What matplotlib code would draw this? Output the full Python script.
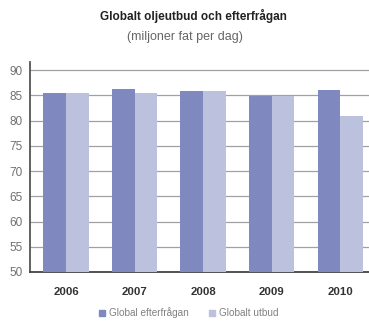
import numpy as np
import matplotlib
matplotlib.use('Agg')
import matplotlib.pyplot as plt
from matplotlib.patches import Patch

plt.rcParams['font.family'] = ['Liberation Sans', 'DejaVu Sans']

years = ['2006', '2007', '2008', '2009', '2010']
demand = [85.5, 86.2, 85.9, 84.85, 86.0]
supply = [85.4, 85.5, 85.9, 84.85, 80.85]
yticks = [50, 55, 60, 65, 70, 75, 80, 85, 90]

dark = '#7f88bf'
light = '#bcc1de'

fig = plt.figure(figsize=(3.69, 3.23), dpi=100)
ax = fig.add_axes([30/369, 1-272/323, 1-30/369, (272-62)/323])

x = np.arange(len(years))
w = 0.33
ax.bar(x - w/2, demand, w, color=dark, zorder=3, label='Global efterfrågan')
ax.bar(x + w/2, supply, w, color=light, zorder=3, label='Globalt utbud')

ax.set_ylim(50, 91.6)
ax.set_xlim(-0.525, 4.42)
ax.set_yticks(yticks)
ax.set_yticklabels([str(t) for t in yticks])
for t in yticks[1:]:
    ax.axhline(t, color='#a0a0a0', lw=0.9, zorder=1)

ax.set_xticks(x)
ax.set_xticklabels(years, fontweight='bold', color='#333333', fontsize=8.2)
ax.tick_params(axis='x', length=0, pad=11)
ax.tick_params(axis='y', length=0, pad=5, labelcolor='#707070', labelsize=8.5)

for s in ['top', 'right']:
    ax.spines[s].set_visible(False)
ax.spines['left'].set_color('#555555')
ax.spines['left'].set_linewidth(1.3)
ax.spines['bottom'].set_color('#444444')
ax.spines['bottom'].set_linewidth(1.3)

fig.text(193/369, 1-16/323, 'Globalt oljeutbud och efterfrågan',
         ha='center', va='center', fontsize=8.5, fontweight='bold', color='#222222',
         family=['Liberation Sans Narrow', 'Liberation Sans', 'DejaVu Sans'])
fig.text(185/369, 1-37/323, '(miljoner fat per dag)',
         ha='center', va='center', fontsize=9, color='#666666')

handles = [Patch(color=dark), Patch(color=light)]
fig.legend(handles, ['Global efterfrågan', 'Globalt utbud'],
           loc='center', bbox_to_anchor=(189/369, 1-313/323), ncol=2, frameon=False,
           fontsize=7.2, handlelength=0.6, handleheight=0.6, handletextpad=0.4,
           columnspacing=2.0, labelcolor='#808080')

fig.savefig('out.png', dpi=100)
